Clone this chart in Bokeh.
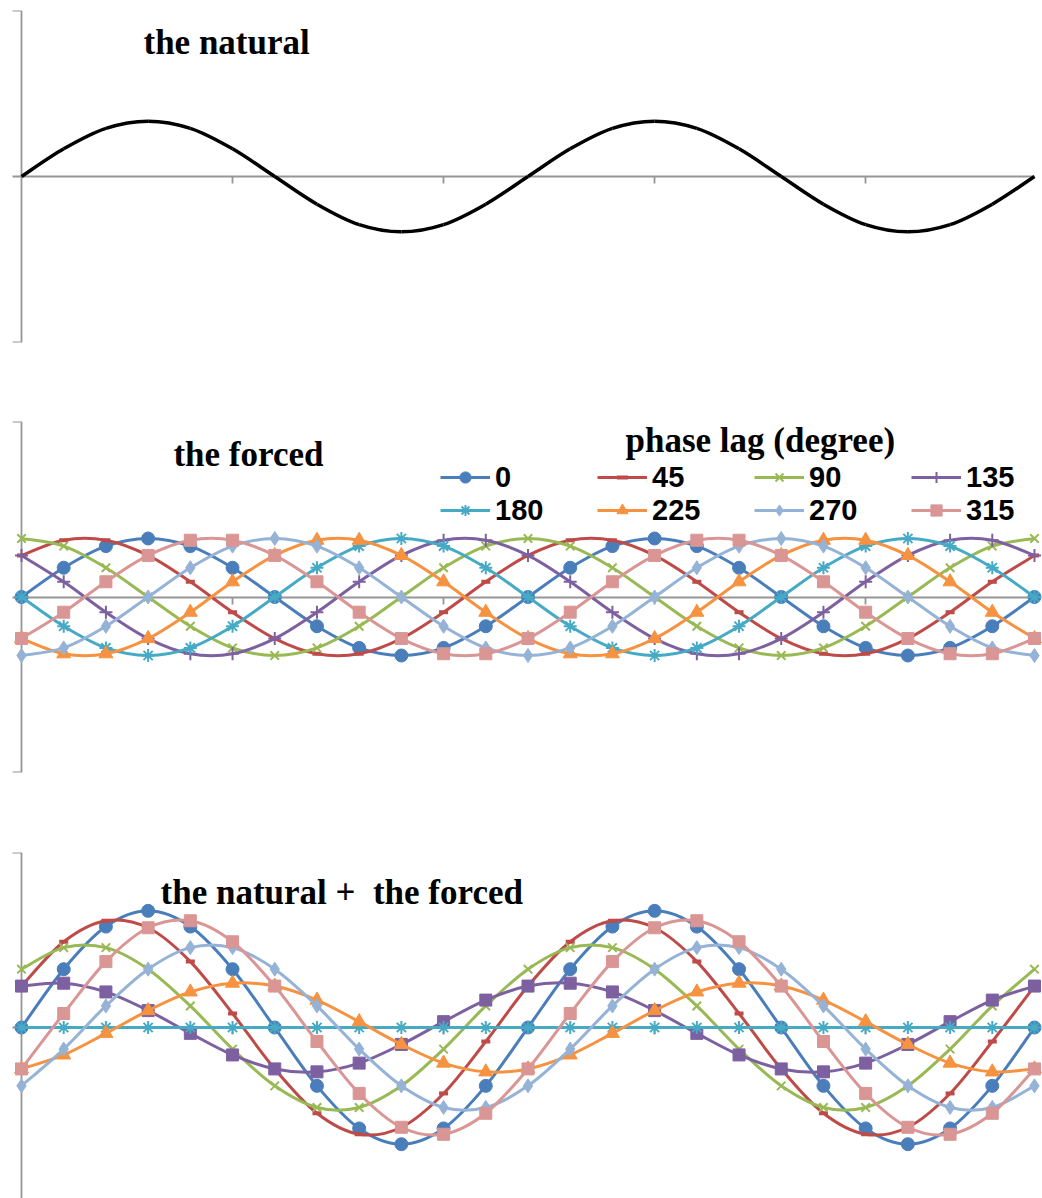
from bokeh.plotting import figure
from bokeh.layouts import column
from bokeh.models import (Range1d, Label, Legend, LegendItem, FixedTicker,
                          LinearAxis, CustomJSTickFormatter, ColumnDataSource)
from bokeh.embed import file_html
from bokeh.resources import INLINE

# ---------------- data ----------------
angles = [0, 30, 60, 90, 120, 150, 180, 210, 240, 270, 300, 330, 360,
          390, 420, 450, 480, 510, 540, 570, 600, 630, 660, 690, 720]
axis_ticks = [150, 300, 450, 600]
y_ticks = [-3, 0, 3]
phase_labels = ["0", "45", "90", "135", "180", "225", "270", "315"]

natural = [0, 0.5, 0.87, 1, 0.87, 0.5, 0, -0.5, -0.87, -1, -0.87, -0.5, 0,
           0.5, 0.87, 1, 0.87, 0.5, 0, -0.5, -0.87, -1, -0.87, -0.5, 0]

forced_0 = [0, 0.5, 0.87, 1, 0.87, 0.5, 0, -0.5, -0.87, -1, -0.87, -0.5, 0,
            0.5, 0.87, 1, 0.87, 0.5, 0, -0.5, -0.87, -1, -0.87, -0.5, 0]
forced_45 = [0.71, 0.97, 0.97, 0.71, 0.26, -0.26, -0.71, -0.97, -0.97, -0.71, -0.26, 0.26, 0.71,
             0.97, 0.97, 0.71, 0.26, -0.26, -0.71, -0.97, -0.97, -0.71, -0.26, 0.26, 0.71]
forced_90 = [1, 0.87, 0.5, 0, -0.5, -0.87, -1, -0.87, -0.5, 0, 0.5, 0.87, 1,
             0.87, 0.5, 0, -0.5, -0.87, -1, -0.87, -0.5, 0, 0.5, 0.87, 1]
forced_135 = [0.71, 0.26, -0.26, -0.71, -0.97, -0.97, -0.71, -0.26, 0.26, 0.71, 0.97, 0.97, 0.71,
              0.26, -0.26, -0.71, -0.97, -0.97, -0.71, -0.26, 0.26, 0.71, 0.97, 0.97, 0.71]
forced_180 = [0, -0.5, -0.87, -1, -0.87, -0.5, 0, 0.5, 0.87, 1, 0.87, 0.5, 0,
              -0.5, -0.87, -1, -0.87, -0.5, 0, 0.5, 0.87, 1, 0.87, 0.5, 0]
forced_225 = [-0.71, -0.97, -0.97, -0.71, -0.26, 0.26, 0.71, 0.97, 0.97, 0.71, 0.26, -0.26, -0.71,
              -0.97, -0.97, -0.71, -0.26, 0.26, 0.71, 0.97, 0.97, 0.71, 0.26, -0.26, -0.71]
forced_270 = [-1, -0.87, -0.5, 0, 0.5, 0.87, 1, 0.87, 0.5, 0, -0.5, -0.87, -1,
              -0.87, -0.5, 0, 0.5, 0.87, 1, 0.87, 0.5, 0, -0.5, -0.87, -1]
forced_315 = [-0.71, -0.26, 0.26, 0.71, 0.97, 0.97, 0.71, 0.26, -0.26, -0.71, -0.97, -0.97, -0.71,
              -0.26, 0.26, 0.71, 0.97, 0.97, 0.71, 0.26, -0.26, -0.71, -0.97, -0.97, -0.71]

combined_0 = [0, 1, 1.73, 2, 1.73, 1, 0, -1, -1.73, -2, -1.73, -1, 0,
              1, 1.73, 2, 1.73, 1, 0, -1, -1.73, -2, -1.73, -1, 0]
combined_45 = [0.71, 1.47, 1.83, 1.71, 1.13, 0.24, -0.71, -1.47, -1.83, -1.71, -1.13, -0.24, 0.71,
               1.47, 1.83, 1.71, 1.13, 0.24, -0.71, -1.47, -1.83, -1.71, -1.13, -0.24, 0.71]
combined_90 = [1, 1.37, 1.37, 1, 0.37, -0.37, -1, -1.37, -1.37, -1, -0.37, 0.37, 1,
               1.37, 1.37, 1, 0.37, -0.37, -1, -1.37, -1.37, -1, -0.37, 0.37, 1]
combined_135 = [0.71, 0.76, 0.61, 0.29, -0.1, -0.47, -0.71, -0.76, -0.61, -0.29, 0.1, 0.47, 0.71,
                0.76, 0.61, 0.29, -0.1, -0.47, -0.71, -0.76, -0.61, -0.29, 0.1, 0.47, 0.71]
combined_180 = [0, 0, 0, 0, 0, 0, 0, 0, 0, 0, 0, 0, 0,
                0, 0, 0, 0, 0, 0, 0, 0, 0, 0, 0, 0]
combined_225 = [-0.71, -0.47, -0.1, 0.29, 0.61, 0.76, 0.71, 0.47, 0.1, -0.29, -0.61, -0.76, -0.71,
                -0.47, -0.1, 0.29, 0.61, 0.76, 0.71, 0.47, 0.1, -0.29, -0.61, -0.76, -0.71]
combined_270 = [-1, -0.37, 0.37, 1, 1.37, 1.37, 1, 0.37, -0.37, -1, -1.37, -1.37, -1,
                -0.37, 0.37, 1, 1.37, 1.37, 1, 0.37, -0.37, -1, -1.37, -1.37, -1]
combined_315 = [-0.71, 0.24, 1.13, 1.71, 1.83, 1.47, 0.71, -0.24, -1.13, -1.71, -1.83, -1.47, -0.71,
                0.24, 1.13, 1.71, 1.83, 1.47, 0.71, -0.24, -1.13, -1.71, -1.83, -1.47, -0.71]

forced_series = [forced_0, forced_45, forced_90, forced_135,
                 forced_180, forced_225, forced_270, forced_315]
combined_series = [combined_0, combined_45, combined_90, combined_135,
                   combined_180, combined_225, combined_270, combined_315]

# ---------------- styles ----------------
colors = ["#4A7EBB", "#BE4B48", "#98B954", "#7D60A0",
          "#46AAC5", "#F69240", "#95B3D7", "#D99694"]
markers_forced = ["circle", "dash", "x", "cross", "asterisk", "triangle", "diamond", "square"]
markers_combined = ["circle", "dash", "x", "square", "asterisk", "triangle", "diamond", "square"]
marker_sizes = {"circle": 13, "dash": 9, "x": 12, "cross": 13, "asterisk": 13,
                "triangle": 14, "diamond": 14, "square": 12}
AXIS_GRAY = "#969696"
TITLE_FONT = "Liberation Serif"
LEGEND_FONT = "Liberation Sans"


def bezier_source(xs, ys):
    n = len(xs)
    d = dict(x0=[], y0=[], x1=[], y1=[], cx0=[], cy0=[], cx1=[], cy1=[])
    for i in range(n - 1):
        xa, ya = (xs[i - 1], ys[i - 1]) if i > 0 else (xs[i], ys[i])
        xb, yb = xs[i], ys[i]
        xc, yc = xs[i + 1], ys[i + 1]
        xd, yd = (xs[i + 2], ys[i + 2]) if i + 2 < n else (xc, yc)
        d["x0"].append(xb); d["y0"].append(yb)
        d["x1"].append(xc); d["y1"].append(yc)
        d["cx0"].append(xb + (xc - xa) / 6.0); d["cy0"].append(yb + (yc - ya) / 6.0)
        d["cx1"].append(xc - (xd - xb) / 6.0); d["cy1"].append(yc - (yd - yb) / 6.0)
    return ColumnDataSource(d)


def make_fig(frame_h, top, bottom, y_start):
    p = figure(frame_width=1042, frame_height=frame_h,
               x_range=Range1d(-14.93, 725.69), y_range=Range1d(y_start, 3),
               x_axis_location=None, y_axis_location=None,
               output_backend="svg", toolbar_location=None,
               min_border_left=0, min_border_right=0,
               min_border_top=top, min_border_bottom=bottom)
    p.outline_line_color = None
    p.xgrid.visible = False
    p.ygrid.visible = False
    p.background_fill_color = "white"
    p.border_fill_color = "white"
    empty = CustomJSTickFormatter(code="return ''")
    xax = LinearAxis(fixed_location=0, ticker=FixedTicker(ticks=axis_ticks),
                     bounds=(0, 720), formatter=empty,
                     major_tick_out=7, major_tick_in=0,
                     minor_tick_out=0, minor_tick_in=0,
                     axis_line_color=AXIS_GRAY, axis_line_width=1.8,
                     major_tick_line_color=AXIS_GRAY, major_tick_line_width=1.8,
                     level="underlay")
    yax = LinearAxis(fixed_location=0, ticker=FixedTicker(ticks=y_ticks),
                     bounds=(-3, 3), formatter=empty,
                     major_tick_out=9, major_tick_in=0,
                     minor_tick_out=0, minor_tick_in=0,
                     axis_line_color=AXIS_GRAY, axis_line_width=1.8,
                     major_tick_line_color=AXIS_GRAY, major_tick_line_width=1.8,
                     level="underlay")
    p.add_layout(xax, "below")
    p.add_layout(yax, "left")
    return p


def add_title(p, text, x, y):
    p.add_layout(Label(x=x, y=y, text=text, text_font=TITLE_FONT,
                       text_font_style="bold", text_font_size="35px",
                       text_color="black", text_baseline="middle"))


def add_series(p, ys, color, marker):
    bz = p.bezier(x0="x0", y0="y0", x1="x1", y1="y1", cx0="cx0", cy0="cy0",
                  cx1="cx1", cy1="cy1", source=bezier_source(angles, ys),
                  line_color=color, line_width=3)
    size = marker_sizes[marker]
    if marker in ("x", "asterisk", "cross"):
        sc = p.scatter(angles, ys, marker=marker, size=size, line_color=color,
                       line_width=2, fill_color=None)
    elif marker == "dash":
        sc = p.scatter(angles, ys, marker=marker, size=size, line_color=color,
                       line_width=4, fill_color=None)
    else:
        sc = p.scatter(angles, ys, marker=marker, size=size, line_color=color,
                       line_width=1, fill_color=color)
    return bz, sc


# ---------------- panel 1: the natural ----------------
p1 = make_fig(332, 10, 66, -3)
p1.bezier(x0="x0", y0="y0", x1="x1", y1="y1", cx0="cx0", cy0="cy0",
          cx1="cx1", cy1="cy1", source=bezier_source(angles, natural),
          line_color="black", line_width=3.5)
add_title(p1, "the natural", 86.7, 2.43)

# ---------------- panel 2: the forced ----------------
p2 = make_fig(351, 13, 58, -3)
items = []
for lab, ys, col, mk in zip(phase_labels, forced_series, colors, markers_forced):
    bz, sc = add_series(p2, ys, col, mk)
    items.append(LegendItem(label=lab, renderers=[bz, sc]))
add_title(p2, "the forced", 108.0, 2.43)
add_title(p2, "phase lag (degree)", 429.3, 2.68)
legend = Legend(items=items, orientation="horizontal", ncols=4,
                location=(440, 245.5), glyph_width=50, glyph_height=28,
                label_standoff=5, label_width=102, label_height=32,
                spacing=0, padding=0, margin=0,
                label_text_font=LEGEND_FONT, label_text_font_style="bold",
                label_text_font_size="29px", label_text_color="black",
                background_fill_alpha=0, border_line_alpha=0)
p2.add_layout(legend)

# ---------------- panel 3: the natural + the forced ----------------
p3 = make_fig(346, 22, 0, -2.931)
for ys, col, mk in zip(combined_series, colors, markers_combined):
    add_series(p3, ys, col, mk)
add_title(p3, "the natural + \u00a0the forced", 98.8, 2.31)

layout = column(p1, p2, p3, spacing=0)
open("out.html", "w").write(file_html(layout, INLINE))
